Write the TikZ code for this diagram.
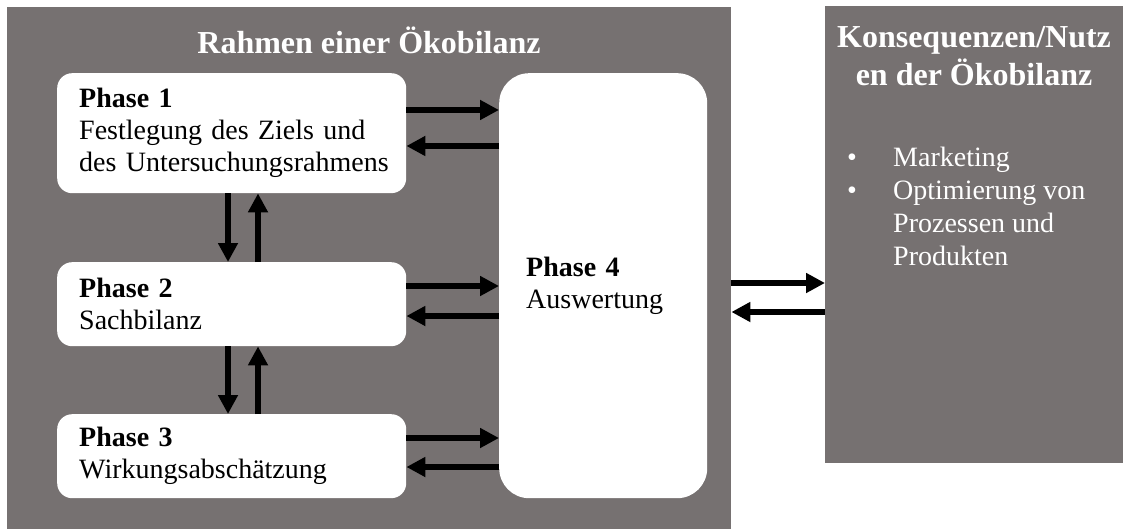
\documentclass[tikz,border=0pt]{standalone}
\usepackage{fontspec}
\setmainfont{Liberation Serif}
\usetikzlibrary{arrows.meta}
\definecolor{rahmengrau}{RGB}{118,113,113}

\tikzset{
  flaeche/.style={fill=rahmengrau,anchor=north west,inner sep=0},
  phase/.style={fill=white,rounded corners=15pt,anchor=north west,inner xsep=22pt,
    text width=305pt,align=left,font=\fontsize{28}{32}\selectfont},
  titel/.style={text=white,align=center,font=\bfseries\fontsize{32}{38}\selectfont},
  pfeil/.style={line width=5.5pt,-{Triangle[length=19pt,width=19pt]}}
}

\begin{document}
\begin{tikzpicture}[x=1pt,y=-1pt]
		\useasboundingbox (0,0) rectangle (1123,529);

		\node[flaeche,minimum width=724,minimum height=522] at (7,7)(rahmen){};
		\node[flaeche,minimum width=298,minimum height=457] at (825,6)(nutzen){};

		\node[titel] at (369,40)(rtitel){Rahmen einer Ökobilanz};
		\node[titel] at (974,56)(ntitel){Konsequenzen/Nutz\\en der Ökobilanz};
		\node[anchor=north west,inner sep=0,text=white,font=\fontsize{28}{33}\selectfont] at (847,143)(liste){%
			\begin{tabular}{@{}p{46pt}@{}l@{}}
			\textbullet & Marketing\\
			\textbullet & Optimierung von\\
			& Prozessen und\\
			& Produkten
			\end{tabular}};

		\node[phase,minimum height=120] at (57,73)(p1){\textbf{Phase 1}\\Festlegung des Ziels und\\\mbox{des Untersuchungsrahmens}};
		\node[phase,minimum height=84] at (57,262)(p2){\textbf{Phase 2}\\Sachbilanz};
		\node[phase,minimum height=84] at (57,414)(p3){\textbf{Phase 3}\\Wirkungsabschätzung};
		\node[phase,rounded corners=30pt,inner xsep=27pt,text width=154pt,minimum height=425] at (499,73)(p4){\textbf{Phase 4}\\Auswertung};

		\path[pfeil](p1.east |- 0,110)edge(p4.west |- 0,110)(p4.west |- 0,146)edge(p1.east |- 0,146);
		\path[pfeil](p2.east |- 0,286)edge(p4.west |- 0,286)(p4.west |- 0,316)edge(p2.east |- 0,316);
		\path[pfeil](p3.east |- 0,438)edge(p4.west |- 0,438)(p4.west |- 0,467)edge(p3.east |- 0,467);

		\path[pfeil](228,0 |- p1.south)edge(228,0 |- p2.north)(258,0 |- p2.north)edge(258,0 |- p1.south);
		\path[pfeil](228,0 |- p2.south)edge(228,0 |- p3.north)(258,0 |- p3.north)edge(258,0 |- p2.south);

		\path[pfeil](rahmen.east |- 0,283)edge(nutzen.west |- 0,283)(nutzen.west |- 0,312)edge(rahmen.east |- 0,312);
	\end{tikzpicture}
\end{document}
